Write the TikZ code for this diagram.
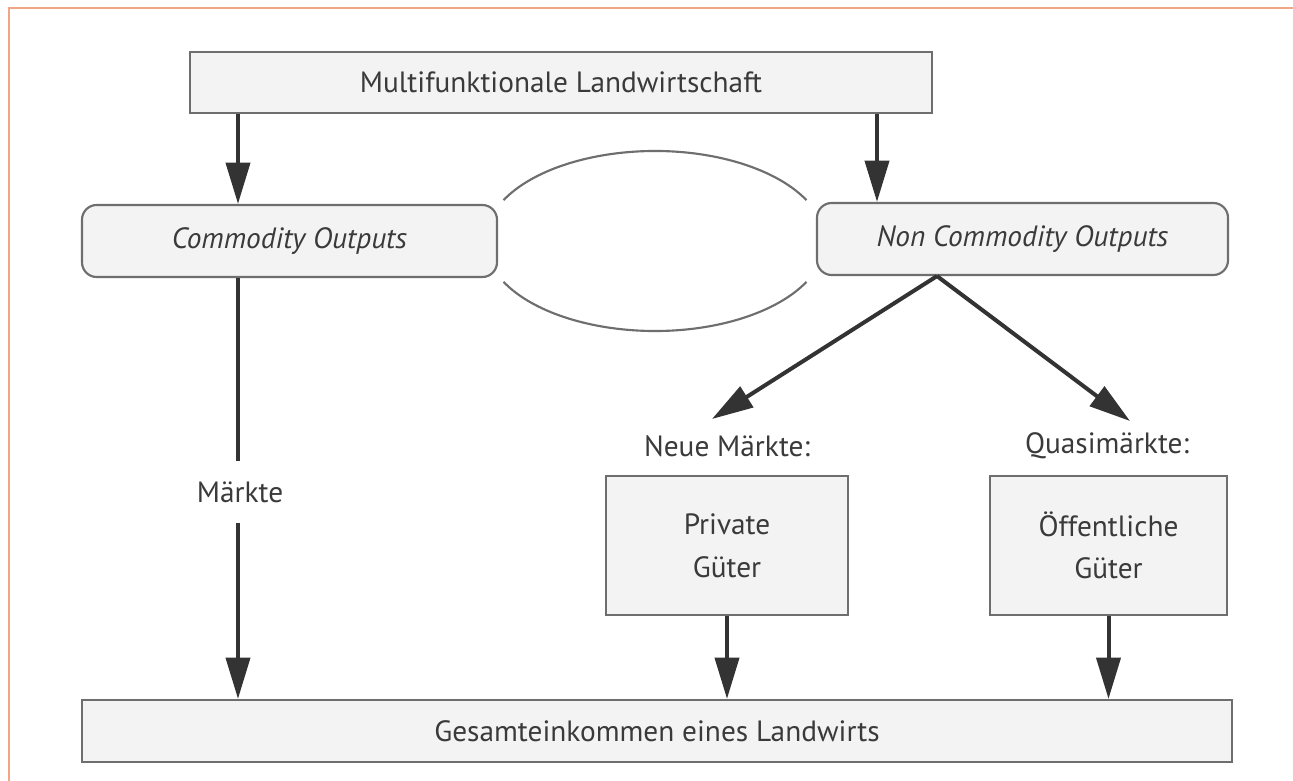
\documentclass[tikz,border=0pt]{standalone}
\usepackage{fontspec}
\setmainfont{PT Sans}
\usetikzlibrary{arrows.meta,calc}
\definecolor{boxfill}{HTML}{F3F3F3}
\definecolor{boxline}{HTML}{6E6E6E}
\definecolor{arrcol}{HTML}{333333}
\definecolor{txtcol}{HTML}{3A3A3A}
\definecolor{framecol}{HTML}{F2A585}
\begin{document}
\begin{tikzpicture}[x=0.75pt,y=-0.75pt,
  every node/.style={text=txtcol,font=\fontsize{22}{26}\selectfont},
  plainbox/.style={draw=boxline,line width=1.6pt,fill=boxfill,inner sep=0pt},
  roundbox/.style={plainbox,rounded corners=11pt,font=\fontsize{22}{26}\selectfont\itshape},
  arr/.style={draw=arrcol,line width=3pt,-{Triangle[length=31pt,width=18pt]}},
  plainline/.style={draw=arrcol,line width=3pt},
  ell/.style={draw=boxline,line width=1.6pt}]
\useasboundingbox (0,0) rectangle (1293,781);
\fill[white] (0,0) rectangle (1293,781);
% frame
\draw[framecol,line width=1.5pt] (9,781) -- (9,8) -- (1293,8);
% nodes
\node[plainbox,minimum width=556.5pt,minimum height=45.75pt] (topbox) at (561,82.5) {Multifunktionale Landwirtschaft};
\node[roundbox,minimum width=311.25pt,minimum height=54pt] (commod) at (289.5,241) {Commodity Outputs};
\node[roundbox,minimum width=308.25pt,minimum height=54pt] (noncom) at (1022.5,239) {Non Commodity Outputs};
\node[plainbox,minimum width=181.5pt,minimum height=104.25pt,align=center] (priv) at (727,545.5) {Private\\[6pt]Güter};
\node[plainbox,minimum width=177.75pt,minimum height=104.25pt,align=center] (oeff) at (1108.5,545.5) {Öffentliche\\[6pt]Güter};
\node[plainbox,minimum width=862.5pt,minimum height=46.5pt] (bottom) at (657,731) {Gesamteinkommen eines Landwirts};
\node[inner xsep=2pt,inner ysep=15pt] (maerkte) at (240,492) {Märkte};
\node[inner sep=1pt] (neue) at (727,446) {Neue Märkte:};
\node[inner sep=1pt] (quasi) at (1107,446) {Quasimärkte:};
% helper coordinates
\coordinate (xL) at (238,0);
\coordinate (xR) at (877,0);
\coordinate (xS) at (937,0);
\coordinate (tipA) at (712,419);
\coordinate (tipB) at (1130,421);
% ellipse arcs
\draw[ell] (655,241) ++(153:170 and 90) arc[start angle=153,end angle=27,x radius=170,y radius=90];
\draw[ell] (655,241) ++(207:170 and 90) arc[start angle=207,end angle=333,x radius=170,y radius=90];
% connectors
\draw[arr] (topbox.south -| xL) -- (commod.north -| xL);
\draw[arr] (topbox.south -| xR) -- (noncom.north -| xR);
\draw[plainline] (commod.south -| xL) -- (maerkte.north -| xL);
\draw[arr] (maerkte.south -| xL) -- (bottom.north -| xL);
\draw[arr] (noncom.south -| xS) -- (tipA);
\draw[arr] (noncom.south -| xS) -- (tipB);
\draw[arr] (priv.south) -- (bottom.north -| priv.south);
\draw[arr] (oeff.south) -- (bottom.north -| oeff.south);
\end{tikzpicture}
\end{document}
